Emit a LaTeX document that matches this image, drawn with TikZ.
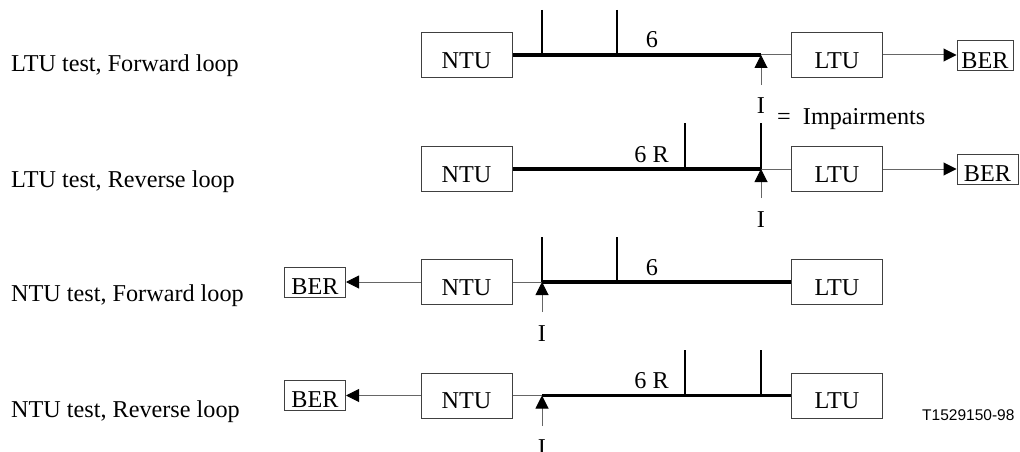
\documentclass[tikz,border=0pt]{standalone}
\usepackage{fontspec}
\setmainfont{Liberation Serif}
\newfontfamily\sansf{Liberation Sans}
\usetikzlibrary{arrows.meta}
\begin{document}
\begin{tikzpicture}[x=1pt,y=-1pt,
  every node/.style={font=\fontsize{24.2}{28}\selectfont, inner sep=0pt},
  box/.style={draw=black!75, line width=1pt, minimum width=91pt, minimum height=45pt, text height=26pt, text depth=0pt},
  berbox/.style={box, minimum width=61pt, minimum height=30pt, text height=24pt},
  trunk/.style={line width=3.2pt},
  tickline/.style={line width=2pt},
  thinline/.style={draw=black!60, line width=1pt},
  arr/.style={thinline, -{Triangle[length=13pt,width=13pt,color=black]}},
  lbl/.style={anchor=base west},
  num/.style={anchor=base}
]
\useasboundingbox (0,0) rectangle (1020,452);

% ---------- Row 1: LTU test, Forward loop ----------
\node[lbl] (l1) at (11,72) {LTU test, Forward loop};
\node[box] (n1) at (466.5,55) {NTU};
\node[box] (t1) at (837,55) {LTU};
\node[berbox, minimum width=56pt] (b1) at (985,56) {BER};
\coordinate (j1) at (761,55);
\coordinate (i1) at (761,85);
\coordinate (v11) at (542,10);
\coordinate (v12) at (617,10);
\draw[trunk] (n1.east) -- (j1);
\draw[thinline] (j1) -- (t1.west);
\draw[tickline] (v11) -- (v11 |- j1);
\draw[tickline] (v12) -- (v12 |- j1);
\draw[arr] (i1) -- (j1);
\draw[arr] (t1.east) -- (b1.west |- t1.east);
\node[num] (s1) at (652,48) {6};
\node[num] (I1) at (761,113) {I};
\node[lbl] (imp) at (777,124) {=~~Impairments};

% ---------- Row 2: LTU test, Reverse loop ----------
\node[lbl] (l2) at (11,187) {LTU test, Reverse loop};
\node[box] (n2) at (466.5,169) {NTU};
\node[box] (t2) at (837,169) {LTU};
\node[berbox] (b2) at (987.5,169) {BER};
\coordinate (j2) at (761,169);
\coordinate (i2) at (761,198);
\coordinate (v21) at (685,123);
\coordinate (v22) at (761,123);
\draw[trunk] (n2.east) -- (j2);
\draw[thinline] (j2) -- (t2.west);
\draw[tickline] (v21) -- (v21 |- j2);
\draw[tickline] (v22) -- (j2);
\draw[arr] (i2) -- (j2);
\draw[arr] (t2.east) -- (b2.west);
\node[num] (s2) at (651.5,162) {6 R};
\node[num] (I2) at (761,227) {I};

% ---------- Row 3: NTU test, Forward loop ----------
\node[lbl] (l3) at (11,301) {NTU test, Forward loop};
\node[berbox] (b3) at (315,282) {BER};
\node[box] (n3) at (466.5,282) {NTU};
\node[box] (t3) at (837,282) {LTU};
\coordinate (j3) at (542,282);
\coordinate (i3) at (542,312);
\coordinate (v31) at (542,237);
\coordinate (v32) at (617,237);
\draw[thinline] (n3.east) -- (j3);
\draw[trunk] (j3) -- (t3.west);
\draw[tickline] (v31) -- (j3);
\draw[tickline] (v32) -- (v32 |- j3);
\draw[arr] (i3) -- (j3);
\draw[arr] (n3.west) -- (b3.east);
\node[num] (s3) at (652,275) {6};
\node[num] (I3) at (542,341) {I};

% ---------- Row 4: NTU test, Reverse loop ----------
\node[lbl] (l4) at (11,417) {NTU test, Reverse loop};
\node[berbox] (b4) at (315,395.5) {BER};
\node[box] (n4) at (466.5,395.5) {NTU};
\node[box] (t4) at (837,395.5) {LTU};
\coordinate (j4) at (542,395.5);
\coordinate (i4) at (542,426);
\coordinate (v41) at (685,350);
\coordinate (v42) at (761,350);
\draw[thinline] (n4.east) -- (j4);
\draw[trunk] (j4) -- (t4.west);
\draw[tickline] (v41) -- (v41 |- j4);
\draw[tickline] (v42) -- (v42 |- j4);
\draw[arr] (i4) -- (j4);
\draw[arr] (n4.west) -- (b4.east);
\node[num] (s4) at (651.5,388) {6 R};
\node[num] (I4) at (542,455) {I};

\node[anchor=west, font=\sansf\fontsize{15.5}{18}\selectfont] (ref) at (922,415) {T1529150-98};
\end{tikzpicture}
\end{document}
